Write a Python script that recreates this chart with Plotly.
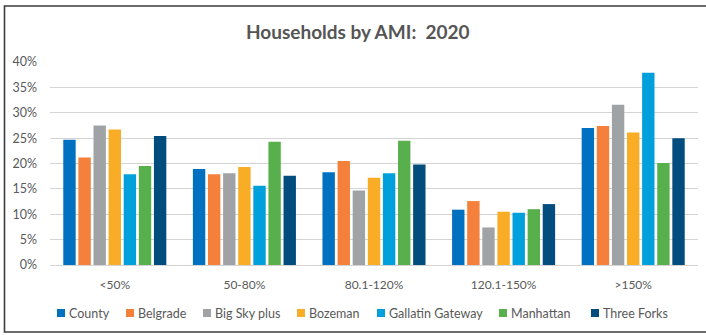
import plotly.graph_objects as go

# Share of households by area median income (AMI) band, 2020
categories = ["<50%", "50-80%", "80.1-120%", "120.1-150%", ">150%"]
county = [0.247, 0.189, 0.183, 0.109, 0.270]
belgrade = [0.212, 0.179, 0.205, 0.126, 0.274]
big_sky_plus = [0.275, 0.181, 0.147, 0.074, 0.316]
bozeman = [0.267, 0.193, 0.172, 0.105, 0.261]
gallatin_gateway = [0.179, 0.156, 0.181, 0.103, 0.379]
manhattan = [0.195, 0.243, 0.245, 0.110, 0.201]
three_forks = [0.254, 0.176, 0.198, 0.120, 0.250]

series_names = ["County", "Belgrade", "Big Sky plus", "Bozeman",
                "Gallatin Gateway", "Manhattan", "Three Forks"]
series_values = [county, belgrade, big_sky_plus, bozeman,
                 gallatin_gateway, manhattan, three_forks]
series_colors = ["#0070C0", "#F4803B", "#A0A3A6", "#F9AC26",
                 "#00A0DC", "#58B04C", "#024C7E"]

W, H = 706, 335
L, R, T, B = 50, 8, 62, 70
plot_w = W - L - R
plot_h = H - T - B
FONT = "Lato, 'Open Sans', sans-serif"
TEXT = "#595959"


def px_x(px):
    return (px - L) / plot_w


def px_y(py):
    return (H - B - py) / plot_h


fig = go.Figure()
for name, vals, color in zip(series_names, series_values, series_colors):
    fig.add_trace(go.Bar(
        x=categories, y=vals, name=name,
        marker=dict(color=color, line=dict(width=0)),
        showlegend=False,
    ))

shapes = []
annotations = []

# Legend: small square swatch followed by the series name
legend_left = [57, 126, 203, 297, 377, 499, 591]
legend_y = 313
for name, color, x0 in zip(series_names, series_colors, legend_left):
    shapes.append(dict(
        type="rect", xref="paper", yref="paper",
        x0=px_x(x0), x1=px_x(x0 + 8),
        y0=px_y(legend_y + 4), y1=px_y(legend_y - 4),
        fillcolor=color, line=dict(width=0), layer="above",
    ))
    annotations.append(dict(
        text=name, xref="paper", yref="paper",
        x=px_x(x0 + 10), y=px_y(legend_y),
        xanchor="left", yanchor="middle", showarrow=False,
        font=dict(family=FONT, size=12.5, color=TEXT),
    ))

# Chart frame
shapes.append(dict(
    type="rect", xref="paper", yref="paper",
    x0=px_x(4.5), x1=px_x(712), y0=px_y(332), y1=px_y(6),
    line=dict(color="#3C3C3C", width=1.6), fillcolor="rgba(0,0,0,0)",
    layer="above",
))

annotations.append(dict(
    text="<b>Households by AMI:  2020</b>", xref="paper", yref="paper",
    x=px_x(358), y=px_y(31), xanchor="center", yanchor="middle",
    showarrow=False, font=dict(family=FONT, size=19, color="#555555"),
))

fig.update_layout(
    width=W, height=H,
    margin=dict(l=L, r=R, t=T, b=B, pad=0),
    paper_bgcolor="white", plot_bgcolor="white",
    barmode="group", bargap=0.184, bargroupgap=0.18,
    shapes=shapes, annotations=annotations,
    font=dict(family=FONT, color=TEXT, size=12),
)
fig.update_xaxes(
    showgrid=False, showline=True, linecolor="#D4D4D4", linewidth=1,
    ticks="", tickfont=dict(size=12, color=TEXT), ticklabelstandoff=9,
)
fig.update_yaxes(
    range=[0, 0.40], dtick=0.05, tickformat=".0%",
    showgrid=True, gridcolor="#D4D4D4", gridwidth=1,
    zeroline=True, zerolinecolor="#D4D4D4", zerolinewidth=1,
    ticks="", tickfont=dict(size=12.5, color=TEXT), ticklabelstandoff=12,
)

fig.write_html("out.html")
